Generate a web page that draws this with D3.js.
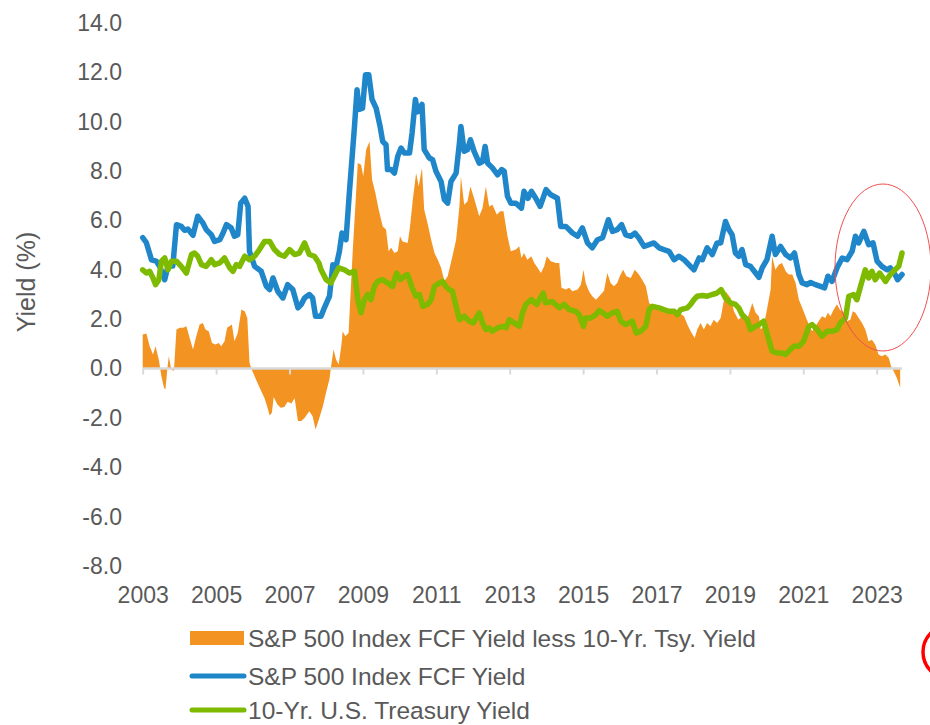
<!DOCTYPE html>
<html><head><meta charset="utf-8">
<script src="https://cdn.jsdelivr.net/npm/d3@7"></script>
<style>
body{margin:0;background:#fff}
svg{display:block}
text{font-family:"Liberation Sans",Arial,sans-serif;fill:#595959}
</style></head><body>
<svg id="c" width="930" height="725"></svg>
<script>
const xTicks = [2003,2005,2007,2009,2011,2013,2015,2017,2019,2021,2023];
const yTicks = [-8,-6,-4,-2,0,2,4,6,8,10,12,14];
const seriesNames = ["S&P 500 Index FCF Yield less 10-Yr. Tsy. Yield","S&P 500 Index FCF Yield","10-Yr. U.S. Treasury Yield"];

const fcfYield = [[2003.00,5.30],[2003.10,5.10],[2003.24,4.40],[2003.37,4.35],[2003.46,4.15],[2003.60,3.60],[2003.69,4.15],[2003.82,4.15],[2003.92,5.83],[2004.05,5.76],[2004.14,5.60],[2004.23,5.65],[2004.37,5.40],[2004.50,6.17],[2004.64,5.90],[2004.73,5.63],[2004.87,5.42],[2004.96,5.15],[2005.10,5.22],[2005.19,5.49],[2005.28,5.83],[2005.41,5.70],[2005.50,5.36],[2005.59,5.42],[2005.67,6.70],[2005.78,6.90],[2005.87,6.57],[2005.91,4.75],[2006.05,4.14],[2006.23,3.94],[2006.37,3.33],[2006.46,3.20],[2006.55,3.67],[2006.68,3.13],[2006.82,2.86],[2006.95,3.40],[2007.09,3.20],[2007.23,2.46],[2007.32,2.60],[2007.41,2.86],[2007.54,3.00],[2007.63,2.86],[2007.71,2.12],[2007.86,2.12],[2007.95,2.46],[2008.09,2.93],[2008.18,4.20],[2008.27,4.14],[2008.36,4.75],[2008.43,5.49],[2008.54,5.22],[2008.63,7.10],[2008.77,9.80],[2008.84,11.30],[2008.90,10.50],[2008.99,10.55],[2009.07,11.90],[2009.16,11.90],[2009.25,10.90],[2009.36,10.55],[2009.47,9.80],[2009.54,9.20],[2009.63,9.07],[2009.67,8.06],[2009.77,8.06],[2009.86,7.92],[2009.95,8.60],[2010.04,8.93],[2010.13,8.73],[2010.27,8.73],[2010.34,9.54],[2010.43,10.90],[2010.49,10.40],[2010.61,10.70],[2010.67,8.87],[2010.81,8.53],[2010.90,8.46],[2010.99,7.99],[2011.13,7.58],[2011.22,6.84],[2011.31,6.70],[2011.40,7.58],[2011.54,7.92],[2011.63,9.14],[2011.67,9.81],[2011.76,8.80],[2011.85,8.87],[2011.93,9.27],[2012.03,8.80],[2012.17,8.32],[2012.26,8.39],[2012.33,9.00],[2012.40,8.32],[2012.53,8.13],[2012.67,7.85],[2012.78,8.06],[2012.85,7.99],[2012.94,6.98],[2013.03,6.70],[2013.17,6.70],[2013.32,6.50],[2013.39,7.18],[2013.50,6.90],[2013.59,7.18],[2013.71,6.90],[2013.83,6.57],[2013.99,7.25],[2014.12,7.04],[2014.30,6.90],[2014.39,5.76],[2014.53,5.76],[2014.71,5.49],[2014.85,5.36],[2014.98,5.70],[2015.12,5.09],[2015.25,4.89],[2015.39,5.22],[2015.53,5.30],[2015.69,6.03],[2015.80,5.56],[2015.93,5.63],[2016.05,5.83],[2016.16,5.42],[2016.30,5.36],[2016.41,5.49],[2016.52,5.29],[2016.66,4.95],[2016.80,5.02],[2016.93,5.09],[2017.07,4.89],[2017.20,4.82],[2017.34,4.75],[2017.48,4.41],[2017.61,4.55],[2017.75,4.41],[2017.88,4.21],[2018.02,4.00],[2018.16,4.48],[2018.25,4.41],[2018.38,4.89],[2018.52,4.62],[2018.65,5.09],[2018.75,5.09],[2018.88,5.96],[2018.97,5.63],[2019.06,5.42],[2019.15,4.68],[2019.24,4.55],[2019.33,4.82],[2019.43,4.21],[2019.56,4.14],[2019.70,3.87],[2019.79,3.70],[2019.88,4.08],[2020.01,4.41],[2020.15,5.36],[2020.24,4.62],[2020.38,4.95],[2020.52,4.62],[2020.65,4.48],[2020.76,4.68],[2020.88,3.81],[2020.97,3.47],[2021.10,3.40],[2021.20,3.49],[2021.33,3.40],[2021.47,3.33],[2021.58,3.27],[2021.67,3.74],[2021.78,3.53],[2021.92,4.08],[2022.06,4.48],[2022.19,4.41],[2022.33,4.75],[2022.42,5.36],[2022.51,5.09],[2022.65,5.56],[2022.78,5.02],[2022.90,5.09],[2023.01,4.35],[2023.14,4.14],[2023.28,4.00],[2023.37,4.08],[2023.50,3.81],[2023.57,3.60],[2023.69,3.81]];

const tsyYield = [[2003.00,4.00],[2003.10,3.87],[2003.19,3.94],[2003.28,3.67],[2003.35,3.40],[2003.44,3.60],[2003.51,4.35],[2003.60,4.48],[2003.69,4.00],[2003.78,4.35],[2003.92,4.35],[2004.05,4.14],[2004.19,3.87],[2004.33,4.62],[2004.41,4.68],[2004.50,4.55],[2004.60,4.21],[2004.73,4.14],[2004.87,4.41],[2004.96,4.21],[2005.10,4.28],[2005.23,4.48],[2005.37,4.08],[2005.46,3.94],[2005.55,4.21],[2005.64,4.14],[2005.78,4.55],[2005.91,4.41],[2006.05,4.55],[2006.18,4.82],[2006.32,5.15],[2006.46,5.15],[2006.59,4.82],[2006.73,4.62],[2006.86,4.55],[2007.00,4.82],[2007.14,4.62],[2007.27,4.68],[2007.41,5.09],[2007.54,4.62],[2007.68,4.55],[2007.80,4.28],[2007.86,4.00],[2008.00,3.60],[2008.13,3.47],[2008.22,3.74],[2008.34,4.08],[2008.50,4.00],[2008.63,3.87],[2008.77,3.94],[2008.86,2.79],[2008.95,2.26],[2009.04,2.79],[2009.13,3.00],[2009.22,2.79],[2009.31,3.33],[2009.40,3.53],[2009.54,3.60],[2009.67,3.47],[2009.81,3.33],[2009.86,3.60],[2009.92,3.87],[2010.02,3.60],[2010.13,3.74],[2010.22,3.81],[2010.34,3.27],[2010.45,2.93],[2010.54,3.00],[2010.63,2.52],[2010.76,2.60],[2010.86,2.79],[2010.95,3.33],[2011.08,3.47],[2011.17,3.53],[2011.26,3.33],[2011.35,3.20],[2011.44,3.13],[2011.54,2.52],[2011.63,1.98],[2011.76,2.12],[2011.90,1.92],[2012.01,1.85],[2012.17,2.26],[2012.26,1.85],[2012.35,1.58],[2012.44,1.65],[2012.53,1.51],[2012.67,1.65],[2012.80,1.71],[2012.90,1.65],[2012.99,1.98],[2013.12,1.85],[2013.26,1.71],[2013.35,2.26],[2013.44,2.60],[2013.59,2.79],[2013.74,2.60],[2013.91,3.06],[2013.98,2.66],[2014.16,2.72],[2014.35,2.46],[2014.48,2.60],[2014.62,2.39],[2014.80,2.32],[2014.89,2.19],[2015.01,1.71],[2015.07,2.05],[2015.21,2.05],[2015.35,2.19],[2015.44,2.35],[2015.57,2.22],[2015.66,2.12],[2015.80,2.26],[2015.93,2.32],[2016.03,1.92],[2016.16,1.78],[2016.34,1.92],[2016.45,1.44],[2016.57,1.51],[2016.71,1.71],[2016.80,2.39],[2016.89,2.52],[2017.07,2.46],[2017.20,2.39],[2017.34,2.32],[2017.48,2.32],[2017.57,2.19],[2017.66,2.39],[2017.84,2.46],[2017.93,2.60],[2018.02,2.79],[2018.11,2.93],[2018.25,2.96],[2018.38,2.93],[2018.52,3.00],[2018.65,3.06],[2018.76,3.20],[2018.88,2.86],[2019.02,2.66],[2019.15,2.60],[2019.24,2.46],[2019.33,2.19],[2019.47,1.98],[2019.56,1.58],[2019.70,1.71],[2019.79,1.78],[2019.92,1.92],[2020.06,1.17],[2020.15,0.70],[2020.29,0.63],[2020.42,0.63],[2020.52,0.57],[2020.60,0.70],[2020.74,0.90],[2020.88,0.90],[2021.01,1.11],[2021.15,1.71],[2021.24,1.78],[2021.38,1.58],[2021.51,1.31],[2021.65,1.51],[2021.78,1.51],[2021.92,1.58],[2022.01,1.85],[2022.15,2.05],[2022.24,2.93],[2022.37,3.00],[2022.46,2.79],[2022.56,3.33],[2022.69,4.00],[2022.78,3.67],[2022.87,3.94],[2022.96,3.60],[2023.08,3.87],[2023.24,3.53],[2023.37,3.81],[2023.50,4.00],[2023.60,4.14],[2023.69,4.68]];

const fcfSpread = [[2003.00,1.38],[2003.10,1.42],[2003.19,0.90],[2003.28,0.57],[2003.35,0.90],[2003.44,0.36],[2003.51,-0.31],[2003.58,-0.78],[2003.62,-0.85],[2003.67,-0.04],[2003.71,0.50],[2003.78,-0.04],[2003.85,-0.10],[2003.92,1.58],[2004.01,1.65],[2004.10,1.65],[2004.19,1.71],[2004.28,1.24],[2004.37,0.77],[2004.46,1.31],[2004.55,1.78],[2004.64,1.85],[2004.71,1.58],[2004.80,1.51],[2004.89,1.04],[2004.98,0.97],[2005.07,1.04],[2005.14,0.90],[2005.23,1.11],[2005.30,1.65],[2005.43,1.78],[2005.50,1.11],[2005.59,1.44],[2005.69,2.39],[2005.78,2.32],[2005.85,2.05],[2005.91,0.23],[2005.97,-0.04],[2006.09,-0.45],[2006.21,-0.85],[2006.32,-1.20],[2006.39,-1.53],[2006.46,-1.90],[2006.52,-1.79],[2006.57,-1.15],[2006.67,-1.46],[2006.76,-1.59],[2006.86,-1.56],[2006.95,-1.35],[2007.05,-1.42],[2007.14,-1.20],[2007.23,-2.13],[2007.32,-2.13],[2007.41,-2.00],[2007.54,-1.73],[2007.63,-1.93],[2007.71,-2.47],[2007.80,-2.06],[2007.91,-1.53],[2008.00,-0.95],[2008.09,-0.42],[2008.13,0.05],[2008.20,0.77],[2008.27,0.36],[2008.34,0.16],[2008.41,0.90],[2008.45,1.51],[2008.52,1.31],[2008.61,1.44],[2008.72,4.68],[2008.82,7.25],[2008.86,8.33],[2008.95,8.26],[2009.01,7.79],[2009.09,8.87],[2009.18,9.20],[2009.25,7.65],[2009.34,7.11],[2009.43,6.44],[2009.54,5.76],[2009.63,5.63],[2009.70,4.75],[2009.77,4.89],[2009.86,4.68],[2009.95,4.75],[2010.01,5.36],[2010.08,5.15],[2010.22,5.09],[2010.28,5.70],[2010.36,6.84],[2010.45,7.92],[2010.52,7.38],[2010.61,8.13],[2010.67,6.44],[2010.76,5.90],[2010.86,5.22],[2010.95,4.68],[2011.04,4.41],[2011.13,4.08],[2011.22,3.55],[2011.31,3.74],[2011.44,4.55],[2011.54,5.22],[2011.63,6.57],[2011.67,7.79],[2011.76,6.64],[2011.85,6.77],[2011.93,7.38],[2012.03,6.90],[2012.17,6.17],[2012.26,6.50],[2012.35,7.38],[2012.44,6.57],[2012.53,6.64],[2012.65,6.23],[2012.74,6.37],[2012.83,6.37],[2012.94,5.36],[2013.03,4.75],[2013.17,4.82],[2013.26,4.95],[2013.32,4.48],[2013.39,4.68],[2013.48,4.41],[2013.59,4.55],[2013.67,4.28],[2013.76,4.08],[2013.85,3.87],[2013.94,4.14],[2014.01,4.55],[2014.12,4.35],[2014.26,4.28],[2014.35,4.28],[2014.41,3.27],[2014.53,3.20],[2014.62,3.27],[2014.71,3.13],[2014.85,3.20],[2014.94,3.40],[2015.01,4.00],[2015.07,3.47],[2015.16,3.13],[2015.25,2.93],[2015.35,2.79],[2015.44,2.93],[2015.57,3.15],[2015.66,3.87],[2015.75,3.47],[2015.84,3.33],[2015.93,3.47],[2016.00,3.74],[2016.09,4.00],[2016.18,3.74],[2016.30,3.67],[2016.41,4.00],[2016.52,3.81],[2016.61,3.60],[2016.71,3.33],[2016.80,2.66],[2016.89,2.52],[2017.02,2.52],[2017.16,2.46],[2017.29,2.32],[2017.43,2.26],[2017.61,2.26],[2017.75,2.12],[2017.84,1.78],[2017.93,1.51],[2018.04,1.24],[2018.11,1.58],[2018.20,1.85],[2018.29,1.58],[2018.38,1.85],[2018.47,1.71],[2018.56,1.98],[2018.65,1.85],[2018.75,2.05],[2018.88,3.13],[2019.02,2.86],[2019.11,2.32],[2019.23,1.98],[2019.33,2.12],[2019.47,1.98],[2019.61,2.66],[2019.70,2.26],[2019.79,2.12],[2019.84,1.58],[2019.92,1.71],[2020.01,2.39],[2020.11,3.20],[2020.15,4.55],[2020.24,4.00],[2020.33,4.21],[2020.42,4.28],[2020.52,3.94],[2020.60,3.81],[2020.70,3.81],[2020.79,3.47],[2020.88,2.79],[2020.97,2.46],[2021.06,2.12],[2021.15,1.78],[2021.24,1.51],[2021.33,1.71],[2021.42,1.92],[2021.51,2.12],[2021.60,2.05],[2021.67,2.26],[2021.74,2.12],[2021.83,2.39],[2021.92,2.60],[2021.99,2.39],[2022.10,2.26],[2022.19,1.92],[2022.28,1.98],[2022.35,2.32],[2022.42,2.26],[2022.51,2.05],[2022.60,1.85],[2022.69,1.58],[2022.78,1.11],[2022.87,1.17],[2022.96,0.97],[2023.05,0.57],[2023.14,0.50],[2023.24,0.57],[2023.33,0.43],[2023.39,0.09],[2023.46,-0.10],[2023.55,-0.38],[2023.64,-0.78]];

const colors = {spread:"#f39322", fcf:"#1f87c9", tsy:"#7dba00", axis:"#d9d9d9"};

const svg = d3.select("#c");
const x = d3.scaleLinear().domain([2003, 2023]).range([142.7, 876.7]);
const y = d3.scaleLinear().domain([-8, 14]).range([566, 23]);
const lastDate = d3.max(fcfYield, d => d[0]);
const fmtY = v => d3.format(".1f")(v).replace("\u2212", "-");

// area
svg.append("path").datum(fcfSpread)
  .attr("fill", colors.spread)
  .attr("d", d3.area().x(d => x(d[0])).y0(y(0)).y1(d => y(d[1])));

// zero axis line with ticks
const gx = svg.append("g").attr("transform", `translate(0,${y(0)})`)
  .call(d3.axisBottom(x).tickValues(xTicks).tickSize(6).tickFormat(""));
gx.select(".domain").remove();
gx.selectAll(".tick line").attr("stroke", colors.axis).attr("stroke-width", 2);
gx.append("line").attr("x1", x(2003)).attr("x2", x(lastDate)).attr("y1", 0).attr("y2", 0)
  .attr("stroke", colors.axis).attr("stroke-width", 2.5);

// x tick labels at bottom
const gxl = svg.append("g").attr("transform", "translate(0,587)")
  .call(d3.axisBottom(x).tickValues(xTicks).tickSize(0).tickPadding(0).tickFormat(d3.format("d")));
gxl.select(".domain").remove();
gxl.selectAll("text").style("font-size", "23px").style("font-family", null).attr("fill", "#595959");

// y axis labels
const gy = svg.append("g").attr("transform", "translate(130,0)")
  .call(d3.axisLeft(y).tickValues(yTicks).tickSize(0).tickPadding(8).tickFormat(fmtY));
gy.select(".domain").remove();
gy.selectAll("text").style("font-size", "23px").style("font-family", null).attr("fill", "#595959");

svg.append("text").attr("transform", "translate(26,282) rotate(-90)")
  .attr("text-anchor", "middle").attr("dy", "0.35em").style("font-size", "25px").text("Yield (%)");

// lines
const line = d3.line().x(d => x(d[0])).y(d => y(d[1]));
svg.append("path").datum(fcfYield).attr("fill", "none").attr("stroke", colors.fcf)
  .attr("stroke-width", 5.5).attr("stroke-linejoin", "round").attr("stroke-linecap", "round").attr("d", line);
svg.append("path").datum(tsyYield).attr("fill", "none").attr("stroke", colors.tsy)
  .attr("stroke-width", 5.5).attr("stroke-linejoin", "round").attr("stroke-linecap", "round").attr("d", line);

// annotation ellipse
svg.append("ellipse").attr("cx", 883).attr("cy", 267.5).attr("rx", 48).attr("ry", 83.5)
  .attr("fill", "none").attr("stroke", "#f05050").attr("stroke-width", 1);
svg.append("circle").attr("cx", 950).attr("cy", 652).attr("r", 27)
  .attr("fill", "none").attr("stroke", "#ff0000").attr("stroke-width", 3.5);

// legend
const lg = svg.append("g");
const rows = [
  {name: seriesNames[0], color: colors.spread, type: "rect", y: 638},
  {name: seriesNames[1], color: colors.fcf, type: "line", y: 676},
  {name: seriesNames[2], color: colors.tsy, type: "line", y: 710}
];
rows.forEach(r => {
  if (r.type === "rect") {
    lg.append("rect").attr("x", 190).attr("y", r.y - 7).attr("width", 54).attr("height", 14).attr("fill", r.color);
  } else {
    lg.append("line").attr("x1", 192).attr("x2", 244).attr("y1", r.y).attr("y2", r.y)
      .attr("stroke", r.color).attr("stroke-width", 5).attr("stroke-linecap", "round");
  }
  lg.append("text").attr("x", 248).attr("y", r.y).attr("dy", "0.35em").style("font-size", "24.5px").text(r.name);
});
</script>
</body></html>
